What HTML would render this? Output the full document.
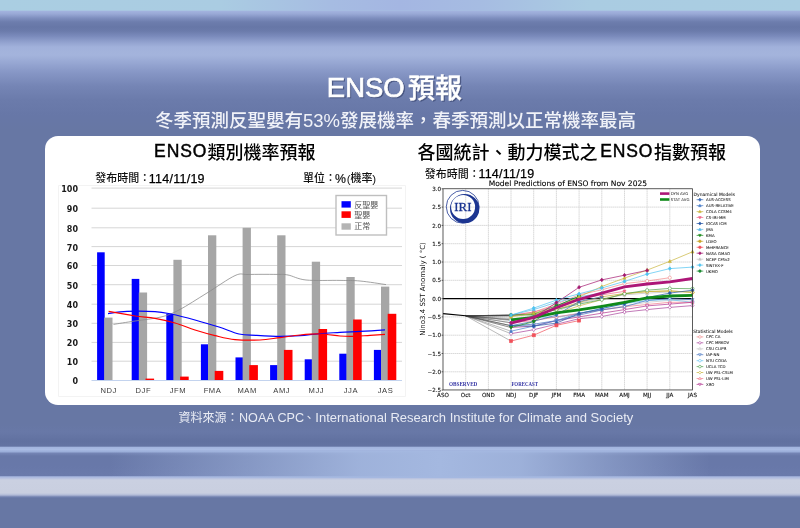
<!DOCTYPE html>
<html><head><meta charset="utf-8">
<style>
html,body{margin:0;padding:0;}
body{width:800px;height:528px;overflow:hidden;position:relative;background:
 linear-gradient(to right, rgba(164,184,224,0) 110px, rgba(164,184,224,.5) 250px, rgba(164,184,224,.9) 360px, rgba(164,184,224,1) 440px, rgba(164,184,224,.88) 520px, rgba(164,184,224,.4) 620px, rgba(164,184,224,0) 710px) 0 451px/800px 27px no-repeat,
 linear-gradient(to right, rgba(170,206,226,1) 0px, rgba(170,204,226,1) 220px, rgba(166,188,226,1) 330px, rgba(164,182,226,1) 400px, rgba(166,188,226,1) 480px, rgba(170,204,226,1) 590px, rgba(170,206,226,1) 800px) 0 0/800px 10.5px no-repeat,
 linear-gradient(to bottom,
   #a6bde0 0px, #a6bde0 10.5px, #a3b3df 11px, #98a8d5 14px, #7f8fbf 18px, #6d7dad 22px, #6777a7 27px, #6b7bab 31px, #7a8abb 36px, #91a1ce 42px, #a1b1db 47px, #a4b4dc 55px, #9aaad5 61px, #8797c6 72px, #7585b5 86px, #6b7bab 100px, #6777a7 115px, #6777a4 130px,
   #6777a4 424px, #6878a7 432px, #6171a0 441px, #6373a2 446.2px, #a2b4de 447.2px, #a9bbe3 449.5px, #9cafda 451.5px, #7383b3 453.5px, #6878a8 456px, #6878a9 466px, #6a7aab 475.5px, #a6b6df 476.8px, #b9c3e0 478.5px, #cad0e1 480px, #c9cfe0 493px, #b2bbd7 495px, #7080ae 497px, #6777a4 498.5px, #6777a4 528px)
;}
#card{position:absolute;left:45.3px;top:135.5px;width:714.7px;height:269.2px;background:#fff;border-radius:13px;}
svg{position:absolute;left:0;top:0;}
text{white-space:pre;}
.yl{font:bold 8px "DejaVu Sans",sans-serif;text-anchor:end;fill:#1a1a1a;}
.xl{font:7.6px "Liberation Sans",sans-serif;text-anchor:middle;fill:#3a3a3a;letter-spacing:0.55px;}
.lg{font:8px "Liberation Sans","Noto Sans CJK TC",sans-serif;fill:#555;}
.gr{stroke:#d6d6d6;stroke-width:0.9;stroke-dasharray:1.6 0.35;}
.rt{font:5.6px "DejaVu Sans",sans-serif;text-anchor:end;fill:#111;stroke:#111;stroke-width:0.12px;}
.rx{font:5.6px "DejaVu Sans",sans-serif;text-anchor:middle;fill:#111;stroke:#111;stroke-width:0.12px;}
.tl{font:3.9px "DejaVu Sans",sans-serif;fill:#222;}
.lh{font:4.5px "DejaVu Sans",sans-serif;fill:#222;stroke:#222;stroke-width:0.06px;}
.li{font:3.9px "DejaVu Sans",sans-serif;fill:#222;stroke:#222;stroke-width:0.06px;}
.pt{font:7.55px "DejaVu Sans",sans-serif;fill:#000;stroke:#000;stroke-width:0.1px;}
.ya{font:7px "DejaVu Sans",sans-serif;fill:#111;text-anchor:middle;}
.ob{font:bold 5.2px "Liberation Serif",serif;fill:#3535a5;}
.iri{font:12.8px "Liberation Serif",serif;fill:#1c3591;stroke:#1c3591;stroke-width:0.3px;text-anchor:middle;}
</style></head>
<body>
<div id="card"></div>
<svg width="800" height="528" viewBox="0 0 800 528">
<path d="M58.5,185.5 H405.5 V396.5 H58.5 Z" fill="none" stroke="#f3f3f3" stroke-width="1"/>
<line x1="91.5" y1="361.2" x2="402" y2="361.2" stroke="#d6d6d6" stroke-width="1"/>
<line x1="91.5" y1="342.4" x2="402" y2="342.4" stroke="#d6d6d6" stroke-width="1"/>
<line x1="91.5" y1="323.3" x2="402" y2="323.3" stroke="#d6d6d6" stroke-width="1"/>
<line x1="91.5" y1="304.2" x2="402" y2="304.2" stroke="#d6d6d6" stroke-width="1"/>
<line x1="91.5" y1="284.7" x2="402" y2="284.7" stroke="#d6d6d6" stroke-width="1"/>
<line x1="91.5" y1="265.5" x2="402" y2="265.5" stroke="#d6d6d6" stroke-width="1"/>
<line x1="91.5" y1="246.6" x2="402" y2="246.6" stroke="#d6d6d6" stroke-width="1"/>
<line x1="91.5" y1="227.8" x2="402" y2="227.8" stroke="#d6d6d6" stroke-width="1"/>
<line x1="91.5" y1="208.2" x2="402" y2="208.2" stroke="#d6d6d6" stroke-width="1"/>
<line x1="91.5" y1="188.1" x2="402" y2="188.1" stroke="#d6d6d6" stroke-width="1"/>
<text x="78" y="384.4" class="yl">0</text>
<text x="78" y="365.1" class="yl">10</text>
<text x="78" y="346.3" class="yl">20</text>
<text x="78" y="327.2" class="yl">30</text>
<text x="78" y="308.1" class="yl">40</text>
<text x="78" y="288.6" class="yl">50</text>
<text x="78" y="269.4" class="yl">60</text>
<text x="78" y="250.5" class="yl">70</text>
<text x="78" y="231.7" class="yl">80</text>
<text x="78" y="212.1" class="yl">90</text>
<text x="78" y="192" class="yl">100</text>
<rect x="97.1" y="252.3" width="7.6" height="128.2" fill="#0000ff"/>
<rect x="104.2" y="317.6" width="8.3" height="62.9" fill="#a6a6a6"/>
<text x="108.7" y="392.9" class="xl">NDJ</text>
<rect x="131.7" y="278.9" width="7.6" height="101.6" fill="#0000ff"/>
<rect x="138.8" y="292.5" width="8.3" height="88" fill="#a6a6a6"/>
<rect x="145.5" y="378.6" width="8.6" height="1.9" fill="#ff0000"/>
<text x="143.3" y="392.9" class="xl">DJF</text>
<rect x="166.3" y="313.8" width="7.6" height="66.8" fill="#0000ff"/>
<rect x="173.4" y="259.8" width="8.3" height="120.7" fill="#a6a6a6"/>
<rect x="180.1" y="376.6" width="8.6" height="3.9" fill="#ff0000"/>
<text x="177.9" y="392.9" class="xl">JFM</text>
<rect x="200.9" y="344.3" width="7.6" height="36.2" fill="#0000ff"/>
<rect x="208" y="235.3" width="8.3" height="145.2" fill="#a6a6a6"/>
<rect x="214.7" y="370.9" width="8.6" height="9.6" fill="#ff0000"/>
<text x="212.5" y="392.9" class="xl">FMA</text>
<rect x="235.5" y="357.4" width="7.6" height="23.1" fill="#0000ff"/>
<rect x="242.6" y="227.8" width="8.3" height="152.7" fill="#a6a6a6"/>
<rect x="249.3" y="365.1" width="8.6" height="15.4" fill="#ff0000"/>
<text x="247.1" y="392.9" class="xl">MAM</text>
<rect x="270.1" y="365.1" width="7.6" height="15.4" fill="#0000ff"/>
<rect x="277.2" y="235.3" width="8.3" height="145.2" fill="#a6a6a6"/>
<rect x="283.9" y="349.9" width="8.6" height="30.6" fill="#ff0000"/>
<text x="281.7" y="392.9" class="xl">AMJ</text>
<rect x="304.7" y="359.3" width="7.6" height="21.2" fill="#0000ff"/>
<rect x="311.8" y="261.7" width="8.3" height="118.8" fill="#a6a6a6"/>
<rect x="318.5" y="329" width="8.6" height="51.5" fill="#ff0000"/>
<text x="316.3" y="392.9" class="xl">MJJ</text>
<rect x="339.3" y="353.7" width="7.6" height="26.8" fill="#0000ff"/>
<rect x="346.4" y="277" width="8.3" height="103.5" fill="#a6a6a6"/>
<rect x="353.1" y="319.5" width="8.6" height="61" fill="#ff0000"/>
<text x="350.9" y="392.9" class="xl">JJA</text>
<rect x="373.9" y="349.9" width="7.6" height="30.6" fill="#0000ff"/>
<rect x="381" y="286.6" width="8.3" height="93.9" fill="#a6a6a6"/>
<rect x="387.7" y="313.8" width="8.6" height="66.8" fill="#ff0000"/>
<text x="385.5" y="392.9" class="xl">JAS</text>
<line x1="91.5" y1="380.5" x2="402" y2="380.5" stroke="#c3d3ee" stroke-width="1"/>
<path d="M113.5,324.4 C117.1,323.8 127.1,322.2 135,321 C142.9,319.8 153.7,318.8 161,317 C168.3,315.2 171.3,314 179,310 C186.7,306 197.7,298.7 207,293 C216.3,287.3 228.2,278.7 235,275.6 C241.8,272.5 241.2,274.7 248,274.5 C254.8,274.3 269.3,274.3 276,274.4 C282.7,274.5 283,274.1 288,275 C293,275.9 297.3,279.1 306,280 C314.7,280.9 331,280.2 340,280.4 C349,280.6 352.3,280.3 360,281 C367.7,281.7 381.7,284 386,284.6" fill="none" stroke="#8c8c8c" stroke-width="0.8"/>
<path d="M108,313.6 C111.2,313.2 119.2,311.7 127,311.4 C134.8,311.1 147.7,311.2 155,311.6 C162.3,312 164.3,312.6 171,314 C177.7,315.4 187,317.8 195,320 C203,322.2 211.7,324.7 219,327 C226.3,329.3 232.8,332.6 239,334 C245.2,335.4 249.2,335 256,335.4 C262.8,335.8 272.7,336.4 280,336.4 C287.3,336.4 293.3,336.1 300,335.6 C306.7,335.1 313.3,334.1 320,333.6 C326.7,333.1 333.3,332.8 340,332.4 C346.7,332 352.5,331.8 360,331.4 C367.5,331 380.8,330.1 385,329.8" fill="none" stroke="#0000ff" stroke-width="1.2"/>
<path d="M108.6,311.4 C113,312.2 127.3,314.8 135,316 C142.7,317.2 148.3,317.2 155,318.4 C161.7,319.6 168.3,321.1 175,323 C181.7,324.9 188.3,327.9 195,330 C201.7,332.1 208.3,334 215,335.6 C221.7,337.2 227.5,338.9 235,339.6 C242.5,340.3 252.5,340.3 260,340 C267.5,339.7 273.3,338.4 280,337.6 C286.7,336.8 293.3,335.6 300,335 C306.7,334.4 313.3,333.8 320,334 C326.7,334.2 334.7,335.6 340,336 C345.3,336.4 347,336.5 352,336.4 C357,336.3 364.5,335.7 370,335.4 C375.5,335.1 382.5,334.6 385,334.4" fill="none" stroke="#ff0000" stroke-width="1.2"/>
<rect x="336" y="195.5" width="50.5" height="39.5" fill="#fff" stroke="#bfbfbf" stroke-width="1.4"/>
<rect x="341.5" y="201.2" width="9.3" height="6.4" fill="#0000ff"/>
<rect x="341.5" y="211.3" width="9.3" height="6.6" fill="#ff0000"/>
<rect x="341.5" y="223.3" width="9.3" height="6.4" fill="#b4b4b4"/>
<text x="354.2" y="207.5" class="lg">反聖嬰</text>
<text x="354.2" y="217.8" class="lg">聖嬰</text>
<text x="354.2" y="229.1" class="lg">正常</text>
<line x1="465.7" y1="188.75" x2="465.7" y2="390.0" class="gr"/>
<line x1="488.4" y1="188.75" x2="488.4" y2="390.0" class="gr"/>
<line x1="511" y1="188.75" x2="511" y2="390.0" class="gr"/>
<line x1="533.7" y1="188.75" x2="533.7" y2="390.0" class="gr"/>
<line x1="556.4" y1="188.75" x2="556.4" y2="390.0" class="gr"/>
<line x1="579.1" y1="188.75" x2="579.1" y2="390.0" class="gr"/>
<line x1="601.8" y1="188.75" x2="601.8" y2="390.0" class="gr"/>
<line x1="624.5" y1="188.75" x2="624.5" y2="390.0" class="gr"/>
<line x1="647.1" y1="188.75" x2="647.1" y2="390.0" class="gr"/>
<line x1="669.8" y1="188.75" x2="669.8" y2="390.0" class="gr"/>
<line x1="443.0" y1="371.8" x2="692.5" y2="371.8" class="gr"/>
<line x1="443.0" y1="353.5" x2="692.5" y2="353.5" class="gr"/>
<line x1="443.0" y1="335.2" x2="692.5" y2="335.2" class="gr"/>
<line x1="443.0" y1="316.9" x2="692.5" y2="316.9" class="gr"/>
<line x1="443.0" y1="280.3" x2="692.5" y2="280.3" class="gr"/>
<line x1="443.0" y1="262" x2="692.5" y2="262" class="gr"/>
<line x1="443.0" y1="243.7" x2="692.5" y2="243.7" class="gr"/>
<line x1="443.0" y1="225.4" x2="692.5" y2="225.4" class="gr"/>
<line x1="443.0" y1="207.1" x2="692.5" y2="207.1" class="gr"/>
<text x="441.2" y="392.2" class="rt">−2.5</text>
<line x1="441.6" y1="390.1" x2="443" y2="390.1" stroke="#000" stroke-width="0.6"/>
<text x="441.2" y="373.9" class="rt">−2.0</text>
<line x1="441.6" y1="371.8" x2="443" y2="371.8" stroke="#000" stroke-width="0.6"/>
<text x="441.2" y="355.6" class="rt">−1.5</text>
<line x1="441.6" y1="353.5" x2="443" y2="353.5" stroke="#000" stroke-width="0.6"/>
<text x="441.2" y="337.3" class="rt">−1.0</text>
<line x1="441.6" y1="335.2" x2="443" y2="335.2" stroke="#000" stroke-width="0.6"/>
<text x="441.2" y="319" class="rt">−0.5</text>
<line x1="441.6" y1="316.9" x2="443" y2="316.9" stroke="#000" stroke-width="0.6"/>
<text x="441.2" y="300.7" class="rt">0.0</text>
<line x1="441.6" y1="298.6" x2="443" y2="298.6" stroke="#000" stroke-width="0.6"/>
<text x="441.2" y="282.4" class="rt">0.5</text>
<line x1="441.6" y1="280.3" x2="443" y2="280.3" stroke="#000" stroke-width="0.6"/>
<text x="441.2" y="264.1" class="rt">1.0</text>
<line x1="441.6" y1="262" x2="443" y2="262" stroke="#000" stroke-width="0.6"/>
<text x="441.2" y="245.8" class="rt">1.5</text>
<line x1="441.6" y1="243.7" x2="443" y2="243.7" stroke="#000" stroke-width="0.6"/>
<text x="441.2" y="227.5" class="rt">2.0</text>
<line x1="441.6" y1="225.4" x2="443" y2="225.4" stroke="#000" stroke-width="0.6"/>
<text x="441.2" y="209.2" class="rt">2.5</text>
<line x1="441.6" y1="207.1" x2="443" y2="207.1" stroke="#000" stroke-width="0.6"/>
<text x="441.2" y="190.9" class="rt">3.0</text>
<line x1="441.6" y1="188.8" x2="443" y2="188.8" stroke="#000" stroke-width="0.6"/>
<text x="443" y="397" class="rx">ASO</text>
<text x="465.7" y="397" class="rx">Oct</text>
<text x="488.4" y="397" class="rx">OND</text>
<text x="511" y="397" class="rx">NDJ</text>
<text x="533.7" y="397" class="rx">DJF</text>
<text x="556.4" y="397" class="rx">JFM</text>
<text x="579.1" y="397" class="rx">FMA</text>
<text x="601.8" y="397" class="rx">MAM</text>
<text x="624.5" y="397" class="rx">AMJ</text>
<text x="647.1" y="397" class="rx">MJJ</text>
<text x="669.8" y="397" class="rx">JJA</text>
<text x="692.5" y="397" class="rx">JAS</text>
<line x1="443.0" y1="298.6" x2="692.5" y2="298.6" stroke="#000" stroke-width="1.3"/>
<line x1="465.7" y1="315.8" x2="511" y2="319.8" stroke="#3a3a3a" stroke-width="0.35"/>
<line x1="465.7" y1="315.8" x2="511" y2="318.7" stroke="#3a3a3a" stroke-width="0.35"/>
<line x1="465.7" y1="315.8" x2="511" y2="315.4" stroke="#3a3a3a" stroke-width="0.35"/>
<line x1="465.7" y1="315.8" x2="511" y2="319.8" stroke="#3a3a3a" stroke-width="0.35"/>
<line x1="465.7" y1="315.8" x2="511" y2="315.1" stroke="#3a3a3a" stroke-width="0.35"/>
<line x1="465.7" y1="315.8" x2="511" y2="320.6" stroke="#3a3a3a" stroke-width="0.35"/>
<line x1="465.7" y1="315.8" x2="511" y2="322.8" stroke="#3a3a3a" stroke-width="0.35"/>
<line x1="465.7" y1="315.8" x2="511" y2="327.5" stroke="#3a3a3a" stroke-width="0.35"/>
<line x1="465.7" y1="315.8" x2="511" y2="325.7" stroke="#3a3a3a" stroke-width="0.35"/>
<line x1="465.7" y1="315.8" x2="511" y2="333.7" stroke="#3a3a3a" stroke-width="0.35"/>
<line x1="465.7" y1="315.8" x2="511" y2="315.4" stroke="#3a3a3a" stroke-width="0.35"/>
<line x1="465.7" y1="315.8" x2="511" y2="331.2" stroke="#3a3a3a" stroke-width="0.35"/>
<line x1="465.7" y1="315.8" x2="511" y2="325.7" stroke="#3a3a3a" stroke-width="0.35"/>
<line x1="465.7" y1="315.8" x2="511" y2="325.7" stroke="#3a3a3a" stroke-width="0.35"/>
<line x1="465.7" y1="315.8" x2="511" y2="315.4" stroke="#3a3a3a" stroke-width="0.35"/>
<line x1="465.7" y1="315.8" x2="511" y2="315.1" stroke="#3a3a3a" stroke-width="0.35"/>
<line x1="465.7" y1="315.8" x2="511" y2="327.5" stroke="#3a3a3a" stroke-width="0.35"/>
<line x1="465.7" y1="315.8" x2="511" y2="315.1" stroke="#3a3a3a" stroke-width="0.35"/>
<line x1="465.7" y1="315.8" x2="511" y2="341.1" stroke="#3a3a3a" stroke-width="0.35"/>
<line x1="465.7" y1="315.8" x2="511" y2="316.9" stroke="#3a3a3a" stroke-width="0.35"/>
<line x1="465.7" y1="315.8" x2="511" y2="315.1" stroke="#3a3a3a" stroke-width="0.35"/>
<line x1="465.7" y1="315.8" x2="511" y2="322.8" stroke="#3a3a3a" stroke-width="0.35"/>
<polyline points="443,313.6 465.7,315.8" fill="none" stroke="#000" stroke-width="1.1"/>
<polyline points="511,319.8 533.7,318.7 556.4,316.9 579.1,313.2 601.8,309.6 624.5,305.9 647.1,302.3 669.8,300.4 692.5,299.7" fill="none" stroke="#c4c4c4" stroke-width="0.7"/>
<path d="M511,318.1L512.6,321.1L509.5,321.1Z" fill="#fff" stroke="#c4c4c4" stroke-width="0.6"/>
<path d="M533.7,317L535.3,320L532.2,320Z" fill="#fff" stroke="#c4c4c4" stroke-width="0.6"/>
<path d="M556.4,315.2L558,318.1L554.9,318.1Z" fill="#fff" stroke="#c4c4c4" stroke-width="0.6"/>
<path d="M579.1,311.5L580.6,314.5L577.5,314.5Z" fill="#fff" stroke="#c4c4c4" stroke-width="0.6"/>
<path d="M601.8,307.9L603.3,310.8L600.2,310.8Z" fill="#fff" stroke="#c4c4c4" stroke-width="0.6"/>
<path d="M624.5,304.2L626,307.2L622.9,307.2Z" fill="#fff" stroke="#c4c4c4" stroke-width="0.6"/>
<path d="M647.1,300.6L648.7,303.5L645.6,303.5Z" fill="#fff" stroke="#c4c4c4" stroke-width="0.6"/>
<path d="M669.8,298.7L671.4,301.7L668.3,301.7Z" fill="#fff" stroke="#c4c4c4" stroke-width="0.6"/>
<path d="M692.5,298L694,300.9L691,300.9Z" fill="#fff" stroke="#c4c4c4" stroke-width="0.6"/>
<polyline points="511,318.7 533.7,317.6 556.4,311.4 579.1,303 601.8,298.6 624.5,294.9 647.1,293.1 669.8,292 692.5,291.3" fill="none" stroke="#bdbdbd" stroke-width="0.7"/>
<path d="M511,317L512.6,320L509.5,320Z" fill="#bdbdbd" stroke="#bdbdbd" stroke-width="0.6"/>
<path d="M533.7,315.9L535.3,318.9L532.2,318.9Z" fill="#bdbdbd" stroke="#bdbdbd" stroke-width="0.6"/>
<path d="M556.4,309.7L558,312.7L554.9,312.7Z" fill="#bdbdbd" stroke="#bdbdbd" stroke-width="0.6"/>
<path d="M579.1,301.3L580.6,304.2L577.5,304.2Z" fill="#bdbdbd" stroke="#bdbdbd" stroke-width="0.6"/>
<path d="M601.8,296.9L603.3,299.8L600.2,299.8Z" fill="#bdbdbd" stroke="#bdbdbd" stroke-width="0.6"/>
<path d="M624.5,293.2L626,296.2L622.9,296.2Z" fill="#bdbdbd" stroke="#bdbdbd" stroke-width="0.6"/>
<path d="M647.1,291.4L648.7,294.4L645.6,294.4Z" fill="#bdbdbd" stroke="#bdbdbd" stroke-width="0.6"/>
<path d="M669.8,290.3L671.4,293.3L668.3,293.3Z" fill="#bdbdbd" stroke="#bdbdbd" stroke-width="0.6"/>
<path d="M692.5,289.6L694,292.5L691,292.5Z" fill="#bdbdbd" stroke="#bdbdbd" stroke-width="0.6"/>
<polyline points="511,315.4 533.7,314 556.4,309.6 579.1,302.3 601.8,296.8 624.5,293.5 647.1,291.6 669.8,290.9 692.5,292.4" fill="none" stroke="#c9a62a" stroke-width="0.7"/>
<circle cx="511" cy="315.4" r="1.6" fill="#c9a62a" stroke="#c9a62a" stroke-width="0.6"/>
<circle cx="533.7" cy="314" r="1.6" fill="#c9a62a" stroke="#c9a62a" stroke-width="0.6"/>
<circle cx="556.4" cy="309.6" r="1.6" fill="#c9a62a" stroke="#c9a62a" stroke-width="0.6"/>
<circle cx="579.1" cy="302.3" r="1.6" fill="#c9a62a" stroke="#c9a62a" stroke-width="0.6"/>
<circle cx="601.8" cy="296.8" r="1.6" fill="#c9a62a" stroke="#c9a62a" stroke-width="0.6"/>
<circle cx="624.5" cy="293.5" r="1.6" fill="#c9a62a" stroke="#c9a62a" stroke-width="0.6"/>
<circle cx="647.1" cy="291.6" r="1.6" fill="#c9a62a" stroke="#c9a62a" stroke-width="0.6"/>
<circle cx="669.8" cy="290.9" r="1.6" fill="#c9a62a" stroke="#c9a62a" stroke-width="0.6"/>
<circle cx="692.5" cy="292.4" r="1.6" fill="#c9a62a" stroke="#c9a62a" stroke-width="0.6"/>
<polyline points="511,319.8 533.7,316.9 556.4,313.2 579.1,305.9 601.8,299.7 624.5,293.8 647.1,291.6 669.8,290.9 692.5,292.4" fill="none" stroke="#c8b43a" stroke-width="0.7"/>
<path d="M511,318L512.6,319.8L511,321.7L509.5,319.8Z" fill="#fff" stroke="#c8b43a" stroke-width="0.6"/>
<path d="M533.7,315L535.3,316.9L533.7,318.8L532.2,316.9Z" fill="#fff" stroke="#c8b43a" stroke-width="0.6"/>
<path d="M556.4,311.4L558,313.2L556.4,315.1L554.9,313.2Z" fill="#fff" stroke="#c8b43a" stroke-width="0.6"/>
<path d="M579.1,304.1L580.6,305.9L579.1,307.8L577.5,305.9Z" fill="#fff" stroke="#c8b43a" stroke-width="0.6"/>
<path d="M601.8,297.8L603.3,299.7L601.8,301.6L600.2,299.7Z" fill="#fff" stroke="#c8b43a" stroke-width="0.6"/>
<path d="M624.5,292L626,293.8L624.5,295.7L622.9,293.8Z" fill="#fff" stroke="#c8b43a" stroke-width="0.6"/>
<path d="M647.1,289.8L648.7,291.6L647.1,293.5L645.6,291.6Z" fill="#fff" stroke="#c8b43a" stroke-width="0.6"/>
<path d="M669.8,289.1L671.4,290.9L669.8,292.8L668.3,290.9Z" fill="#fff" stroke="#c8b43a" stroke-width="0.6"/>
<path d="M692.5,290.5L694,292.4L692.5,294.2L691,292.4Z" fill="#fff" stroke="#c8b43a" stroke-width="0.6"/>
<polyline points="511,315.1 533.7,315.1 556.4,309.6 579.1,304.1 601.8,299.7 624.5,293.8 647.1,290.2 669.8,288.4 692.5,288.7" fill="none" stroke="#4aa04a" stroke-width="0.7"/>
<circle cx="511" cy="315.1" r="1.6" fill="#fff" stroke="#4aa04a" stroke-width="0.6"/>
<circle cx="533.7" cy="315.1" r="1.6" fill="#fff" stroke="#4aa04a" stroke-width="0.6"/>
<circle cx="556.4" cy="309.6" r="1.6" fill="#fff" stroke="#4aa04a" stroke-width="0.6"/>
<circle cx="579.1" cy="304.1" r="1.6" fill="#fff" stroke="#4aa04a" stroke-width="0.6"/>
<circle cx="601.8" cy="299.7" r="1.6" fill="#fff" stroke="#4aa04a" stroke-width="0.6"/>
<circle cx="624.5" cy="293.8" r="1.6" fill="#fff" stroke="#4aa04a" stroke-width="0.6"/>
<circle cx="647.1" cy="290.2" r="1.6" fill="#fff" stroke="#4aa04a" stroke-width="0.6"/>
<circle cx="669.8" cy="288.4" r="1.6" fill="#fff" stroke="#4aa04a" stroke-width="0.6"/>
<circle cx="692.5" cy="288.7" r="1.6" fill="#fff" stroke="#4aa04a" stroke-width="0.6"/>
<polyline points="511,320.6 533.7,316.9 556.4,317.3 579.1,313.6 601.8,308.5 624.5,303.7 647.1,300.4 669.8,299.7 692.5,302.3" fill="none" stroke="#63c3f2" stroke-width="0.7"/>
<circle cx="511" cy="320.6" r="1.6" fill="#fff" stroke="#63c3f2" stroke-width="0.6"/>
<circle cx="533.7" cy="316.9" r="1.6" fill="#fff" stroke="#63c3f2" stroke-width="0.6"/>
<circle cx="556.4" cy="317.3" r="1.6" fill="#fff" stroke="#63c3f2" stroke-width="0.6"/>
<circle cx="579.1" cy="313.6" r="1.6" fill="#fff" stroke="#63c3f2" stroke-width="0.6"/>
<circle cx="601.8" cy="308.5" r="1.6" fill="#fff" stroke="#63c3f2" stroke-width="0.6"/>
<circle cx="624.5" cy="303.7" r="1.6" fill="#fff" stroke="#63c3f2" stroke-width="0.6"/>
<circle cx="647.1" cy="300.4" r="1.6" fill="#fff" stroke="#63c3f2" stroke-width="0.6"/>
<circle cx="669.8" cy="299.7" r="1.6" fill="#fff" stroke="#63c3f2" stroke-width="0.6"/>
<circle cx="692.5" cy="302.3" r="1.6" fill="#fff" stroke="#63c3f2" stroke-width="0.6"/>
<polyline points="511,322.8 533.7,320.6 556.4,316.9 579.1,313.6 601.8,309.9 624.5,306.7 647.1,304.5 669.8,302.3 692.5,302.3" fill="none" stroke="#f27a8a" stroke-width="0.7"/>
<path d="M511,321.1L512.6,324L509.5,324Z" fill="#fff" stroke="#f27a8a" stroke-width="0.6"/>
<path d="M533.7,318.9L535.3,321.8L532.2,321.8Z" fill="#fff" stroke="#f27a8a" stroke-width="0.6"/>
<path d="M556.4,315.2L558,318.1L554.9,318.1Z" fill="#fff" stroke="#f27a8a" stroke-width="0.6"/>
<path d="M579.1,311.9L580.6,314.8L577.5,314.8Z" fill="#fff" stroke="#f27a8a" stroke-width="0.6"/>
<path d="M601.8,308.2L603.3,311.2L600.2,311.2Z" fill="#fff" stroke="#f27a8a" stroke-width="0.6"/>
<path d="M624.5,304.9L626,307.9L622.9,307.9Z" fill="#fff" stroke="#f27a8a" stroke-width="0.6"/>
<path d="M647.1,302.8L648.7,305.7L645.6,305.7Z" fill="#fff" stroke="#f27a8a" stroke-width="0.6"/>
<path d="M669.8,300.6L671.4,303.5L668.3,303.5Z" fill="#fff" stroke="#f27a8a" stroke-width="0.6"/>
<path d="M692.5,300.6L694,303.5L691,303.5Z" fill="#fff" stroke="#f27a8a" stroke-width="0.6"/>
<polyline points="511,327.5 533.7,326.1 556.4,320.6 579.1,316.9 601.8,313.2 624.5,309.6 647.1,305.9 669.8,304.1 692.5,302.3" fill="none" stroke="#b0308e" stroke-width="0.7"/>
<path d="M511,329.2L512.6,326.3L509.5,326.3Z" fill="#fff" stroke="#b0308e" stroke-width="0.6"/>
<path d="M533.7,327.8L535.3,324.8L532.2,324.8Z" fill="#fff" stroke="#b0308e" stroke-width="0.6"/>
<path d="M556.4,322.3L558,319.3L554.9,319.3Z" fill="#fff" stroke="#b0308e" stroke-width="0.6"/>
<path d="M579.1,318.6L580.6,315.7L577.5,315.7Z" fill="#fff" stroke="#b0308e" stroke-width="0.6"/>
<path d="M601.8,314.9L603.3,312L600.2,312Z" fill="#fff" stroke="#b0308e" stroke-width="0.6"/>
<path d="M624.5,311.3L626,308.3L622.9,308.3Z" fill="#fff" stroke="#b0308e" stroke-width="0.6"/>
<path d="M647.1,307.6L648.7,304.7L645.6,304.7Z" fill="#fff" stroke="#b0308e" stroke-width="0.6"/>
<path d="M669.8,305.8L671.4,302.9L668.3,302.9Z" fill="#fff" stroke="#b0308e" stroke-width="0.6"/>
<path d="M692.5,304L694,301L691,301Z" fill="#fff" stroke="#b0308e" stroke-width="0.6"/>
<polyline points="511,325.7 533.7,324.2 556.4,320.6 579.1,315.1 601.8,309.9 624.5,306.7 647.1,300.4 669.8,298.6 692.5,299.7" fill="none" stroke="#4070c0" stroke-width="0.7"/>
<path d="M511,327.4L512.6,324.4L509.5,324.4Z" fill="#fff" stroke="#4070c0" stroke-width="0.6"/>
<path d="M533.7,325.9L535.3,323L532.2,323Z" fill="#fff" stroke="#4070c0" stroke-width="0.6"/>
<path d="M556.4,322.3L558,319.3L554.9,319.3Z" fill="#fff" stroke="#4070c0" stroke-width="0.6"/>
<path d="M579.1,316.8L580.6,313.8L577.5,313.8Z" fill="#fff" stroke="#4070c0" stroke-width="0.6"/>
<path d="M601.8,311.7L603.3,308.7L600.2,308.7Z" fill="#fff" stroke="#4070c0" stroke-width="0.6"/>
<path d="M624.5,308.4L626,305.4L622.9,305.4Z" fill="#fff" stroke="#4070c0" stroke-width="0.6"/>
<path d="M647.1,302.1L648.7,299.2L645.6,299.2Z" fill="#fff" stroke="#4070c0" stroke-width="0.6"/>
<path d="M669.8,300.3L671.4,297.4L668.3,297.4Z" fill="#fff" stroke="#4070c0" stroke-width="0.6"/>
<path d="M692.5,301.4L694,298.5L691,298.5Z" fill="#fff" stroke="#4070c0" stroke-width="0.6"/>
<polyline points="511,333.7 533.7,329.7 556.4,324.2 579.1,318.7 601.8,316.5 624.5,312.1 647.1,309.6 669.8,307.4 692.5,305.6" fill="none" stroke="#a8409a" stroke-width="0.7"/>
<path d="M511,331.9L512.6,333.7L511,335.6L509.5,333.7Z" fill="#fff" stroke="#a8409a" stroke-width="0.6"/>
<path d="M533.7,327.9L535.3,329.7L533.7,331.6L532.2,329.7Z" fill="#fff" stroke="#a8409a" stroke-width="0.6"/>
<path d="M556.4,322.4L558,324.2L556.4,326.1L554.9,324.2Z" fill="#fff" stroke="#a8409a" stroke-width="0.6"/>
<path d="M579.1,316.9L580.6,318.7L579.1,320.6L577.5,318.7Z" fill="#fff" stroke="#a8409a" stroke-width="0.6"/>
<path d="M601.8,314.7L603.3,316.5L601.8,318.4L600.2,316.5Z" fill="#fff" stroke="#a8409a" stroke-width="0.6"/>
<path d="M624.5,310.3L626,312.1L624.5,314L622.9,312.1Z" fill="#fff" stroke="#a8409a" stroke-width="0.6"/>
<path d="M647.1,307.7L648.7,309.6L647.1,311.4L645.6,309.6Z" fill="#fff" stroke="#a8409a" stroke-width="0.6"/>
<path d="M669.8,305.5L671.4,307.4L669.8,309.2L668.3,307.4Z" fill="#fff" stroke="#a8409a" stroke-width="0.6"/>
<path d="M692.5,303.7L694,305.6L692.5,307.4L691,305.6Z" fill="#fff" stroke="#a8409a" stroke-width="0.6"/>
<polyline points="511,315.4 533.7,312.1 556.4,304.1 579.1,294.9 601.8,289.8 624.5,283.6 647.1,281 669.8,277.7" fill="none" stroke="#f28a8a" stroke-width="0.7"/>
<circle cx="511" cy="315.4" r="1.6" fill="#fff" stroke="#f28a8a" stroke-width="0.6"/>
<circle cx="533.7" cy="312.1" r="1.6" fill="#fff" stroke="#f28a8a" stroke-width="0.6"/>
<circle cx="556.4" cy="304.1" r="1.6" fill="#fff" stroke="#f28a8a" stroke-width="0.6"/>
<circle cx="579.1" cy="294.9" r="1.6" fill="#fff" stroke="#f28a8a" stroke-width="0.6"/>
<circle cx="601.8" cy="289.8" r="1.6" fill="#fff" stroke="#f28a8a" stroke-width="0.6"/>
<circle cx="624.5" cy="283.6" r="1.6" fill="#fff" stroke="#f28a8a" stroke-width="0.6"/>
<circle cx="647.1" cy="281" r="1.6" fill="#fff" stroke="#f28a8a" stroke-width="0.6"/>
<circle cx="669.8" cy="277.7" r="1.6" fill="#fff" stroke="#f28a8a" stroke-width="0.6"/>
<polyline points="511,331.2 533.7,326.1 556.4,320.6 579.1,313.2 601.8,309.6" fill="none" stroke="#4a7ec8" stroke-width="0.7"/>
<path d="M511,329.5L512.6,332.4L509.5,332.4Z" fill="#4a7ec8" stroke="#4a7ec8" stroke-width="0.6"/>
<path d="M533.7,324.3L535.3,327.3L532.2,327.3Z" fill="#4a7ec8" stroke="#4a7ec8" stroke-width="0.6"/>
<path d="M556.4,318.9L558,321.8L554.9,321.8Z" fill="#4a7ec8" stroke="#4a7ec8" stroke-width="0.6"/>
<path d="M579.1,311.5L580.6,314.5L577.5,314.5Z" fill="#4a7ec8" stroke="#4a7ec8" stroke-width="0.6"/>
<path d="M601.8,307.9L603.3,310.8L600.2,310.8Z" fill="#4a7ec8" stroke="#4a7ec8" stroke-width="0.6"/>
<polyline points="511,325.7 533.7,321.3 556.4,315.1 579.1,301.5 601.8,296.8" fill="none" stroke="#3b6cb5" stroke-width="0.7"/>
<path d="M511,323.8L512.6,325.7L511,327.5L509.5,325.7Z" fill="#3b6cb5" stroke="#3b6cb5" stroke-width="0.6"/>
<path d="M533.7,319.4L535.3,321.3L533.7,323.2L532.2,321.3Z" fill="#3b6cb5" stroke="#3b6cb5" stroke-width="0.6"/>
<path d="M556.4,313.2L558,315.1L556.4,316.9L554.9,315.1Z" fill="#3b6cb5" stroke="#3b6cb5" stroke-width="0.6"/>
<path d="M579.1,299.7L580.6,301.5L579.1,303.4L577.5,301.5Z" fill="#3b6cb5" stroke="#3b6cb5" stroke-width="0.6"/>
<path d="M601.8,294.9L603.3,296.8L601.8,298.6L600.2,296.8Z" fill="#3b6cb5" stroke="#3b6cb5" stroke-width="0.6"/>
<polyline points="511,325.7 533.7,326.1 556.4,323.1 579.1,313.6 601.8,308.5 624.5,303.7 647.1,297.5 669.8,293.1 692.5,290.2" fill="none" stroke="#2a5aa8" stroke-width="0.7"/>
<path d="M511,323.8L512.6,325.7L511,327.5L509.5,325.7Z" fill="#2a5aa8" stroke="#2a5aa8" stroke-width="0.6"/>
<path d="M533.7,324.2L535.3,326.1L533.7,327.9L532.2,326.1Z" fill="#2a5aa8" stroke="#2a5aa8" stroke-width="0.6"/>
<path d="M556.4,321.3L558,323.1L556.4,325L554.9,323.1Z" fill="#2a5aa8" stroke="#2a5aa8" stroke-width="0.6"/>
<path d="M579.1,311.7L580.6,313.6L579.1,315.5L577.5,313.6Z" fill="#2a5aa8" stroke="#2a5aa8" stroke-width="0.6"/>
<path d="M601.8,306.6L603.3,308.5L601.8,310.3L600.2,308.5Z" fill="#2a5aa8" stroke="#2a5aa8" stroke-width="0.6"/>
<path d="M624.5,301.9L626,303.7L624.5,305.6L622.9,303.7Z" fill="#2a5aa8" stroke="#2a5aa8" stroke-width="0.6"/>
<path d="M647.1,295.6L648.7,297.5L647.1,299.4L645.6,297.5Z" fill="#2a5aa8" stroke="#2a5aa8" stroke-width="0.6"/>
<path d="M669.8,291.2L671.4,293.1L669.8,295L668.3,293.1Z" fill="#2a5aa8" stroke="#2a5aa8" stroke-width="0.6"/>
<path d="M692.5,288.3L694,290.2L692.5,292L691,290.2Z" fill="#2a5aa8" stroke="#2a5aa8" stroke-width="0.6"/>
<polyline points="511,315.4 533.7,312.1 556.4,305.9 579.1,298.6 601.8,294.9 624.5,291.3" fill="none" stroke="#f06888" stroke-width="0.7"/>
<path d="M511,317.1L512.6,314.2L509.5,314.2Z" fill="#f06888" stroke="#f06888" stroke-width="0.6"/>
<path d="M533.7,313.8L535.3,310.9L532.2,310.9Z" fill="#f06888" stroke="#f06888" stroke-width="0.6"/>
<path d="M556.4,307.6L558,304.7L554.9,304.7Z" fill="#f06888" stroke="#f06888" stroke-width="0.6"/>
<path d="M579.1,300.3L580.6,297.4L577.5,297.4Z" fill="#f06888" stroke="#f06888" stroke-width="0.6"/>
<path d="M601.8,296.6L603.3,293.7L600.2,293.7Z" fill="#f06888" stroke="#f06888" stroke-width="0.6"/>
<path d="M624.5,293L626,290L622.9,290Z" fill="#f06888" stroke="#f06888" stroke-width="0.6"/>
<polyline points="511,315.1 533.7,309.6 556.4,302.3 579.1,296.8 601.8,293.1" fill="none" stroke="#58b8e8" stroke-width="0.7"/>
<path d="M511,313.4L512.6,316.3L509.5,316.3Z" fill="#58b8e8" stroke="#58b8e8" stroke-width="0.6"/>
<path d="M533.7,307.9L535.3,310.8L532.2,310.8Z" fill="#58b8e8" stroke="#58b8e8" stroke-width="0.6"/>
<path d="M556.4,300.6L558,303.5L554.9,303.5Z" fill="#58b8e8" stroke="#58b8e8" stroke-width="0.6"/>
<path d="M579.1,295.1L580.6,298L577.5,298Z" fill="#58b8e8" stroke="#58b8e8" stroke-width="0.6"/>
<path d="M601.8,291.4L603.3,294.4L600.2,294.4Z" fill="#58b8e8" stroke="#58b8e8" stroke-width="0.6"/>
<polyline points="511,327.5 533.7,321.7 556.4,305.9 579.1,296.4" fill="none" stroke="#188a18" stroke-width="0.7"/>
<path d="M511,329.2L512.6,326.3L509.5,326.3Z" fill="#188a18" stroke="#188a18" stroke-width="0.6"/>
<path d="M533.7,323.4L535.3,320.4L532.2,320.4Z" fill="#188a18" stroke="#188a18" stroke-width="0.6"/>
<path d="M556.4,307.6L558,304.7L554.9,304.7Z" fill="#188a18" stroke="#188a18" stroke-width="0.6"/>
<path d="M579.1,298.1L580.6,295.2L577.5,295.2Z" fill="#188a18" stroke="#188a18" stroke-width="0.6"/>
<polyline points="511,315.1 533.7,314 556.4,305.9 579.1,296.4" fill="none" stroke="#1a8a30" stroke-width="0.7"/>
<circle cx="511" cy="315.1" r="1.6" fill="#1a8a30" stroke="#1a8a30" stroke-width="0.6"/>
<circle cx="533.7" cy="314" r="1.6" fill="#1a8a30" stroke="#1a8a30" stroke-width="0.6"/>
<circle cx="556.4" cy="305.9" r="1.6" fill="#1a8a30" stroke="#1a8a30" stroke-width="0.6"/>
<circle cx="579.1" cy="296.4" r="1.6" fill="#1a8a30" stroke="#1a8a30" stroke-width="0.6"/>
<polyline points="511,341.1 533.7,335.2 556.4,325.3 579.1,320.6" fill="none" stroke="#f0505a" stroke-width="0.7"/>
<rect x="509.5" y="339.5" width="3.1" height="3.1" fill="#f0505a" stroke="#f0505a" stroke-width="0.6"/>
<rect x="532.2" y="333.7" width="3.1" height="3.1" fill="#f0505a" stroke="#f0505a" stroke-width="0.6"/>
<rect x="554.9" y="323.8" width="3.1" height="3.1" fill="#f0505a" stroke="#f0505a" stroke-width="0.6"/>
<rect x="577.5" y="319" width="3.1" height="3.1" fill="#f0505a" stroke="#f0505a" stroke-width="0.6"/>
<polyline points="511,316.9 533.7,313.2 556.4,307.8 579.1,296.8 601.8,286.5 624.5,278.1 647.1,270.1 669.8,261.3 692.5,251.8" fill="none" stroke="#c9b53d" stroke-width="0.7"/>
<path d="M511,315.2L512.6,318.1L509.5,318.1Z" fill="#c9b53d" stroke="#c9b53d" stroke-width="0.6"/>
<path d="M533.7,311.5L535.3,314.5L532.2,314.5Z" fill="#c9b53d" stroke="#c9b53d" stroke-width="0.6"/>
<path d="M556.4,306L558,309L554.9,309Z" fill="#c9b53d" stroke="#c9b53d" stroke-width="0.6"/>
<path d="M579.1,295.1L580.6,298L577.5,298Z" fill="#c9b53d" stroke="#c9b53d" stroke-width="0.6"/>
<path d="M601.8,284.8L603.3,287.8L600.2,287.8Z" fill="#c9b53d" stroke="#c9b53d" stroke-width="0.6"/>
<path d="M624.5,276.4L626,279.3L622.9,279.3Z" fill="#c9b53d" stroke="#c9b53d" stroke-width="0.6"/>
<path d="M647.1,268.3L648.7,271.3L645.6,271.3Z" fill="#c9b53d" stroke="#c9b53d" stroke-width="0.6"/>
<path d="M669.8,259.6L671.4,262.5L668.3,262.5Z" fill="#c9b53d" stroke="#c9b53d" stroke-width="0.6"/>
<path d="M692.5,250L694,253L691,253Z" fill="#c9b53d" stroke="#c9b53d" stroke-width="0.6"/>
<polyline points="511,315.1 533.7,308.1 556.4,300.1 579.1,293.8 601.8,288 624.5,281.4 647.1,274.1 669.8,268.6 692.5,267.1" fill="none" stroke="#4dc3f0" stroke-width="0.7"/>
<path d="M511,313.2L512.6,315.1L511,316.9L509.5,315.1Z" fill="#4dc3f0" stroke="#4dc3f0" stroke-width="0.6"/>
<path d="M533.7,306.3L535.3,308.1L533.7,310L532.2,308.1Z" fill="#4dc3f0" stroke="#4dc3f0" stroke-width="0.6"/>
<path d="M556.4,298.2L558,300.1L556.4,301.9L554.9,300.1Z" fill="#4dc3f0" stroke="#4dc3f0" stroke-width="0.6"/>
<path d="M579.1,292L580.6,293.8L579.1,295.7L577.5,293.8Z" fill="#4dc3f0" stroke="#4dc3f0" stroke-width="0.6"/>
<path d="M601.8,286.1L603.3,288L601.8,289.8L600.2,288Z" fill="#4dc3f0" stroke="#4dc3f0" stroke-width="0.6"/>
<path d="M624.5,279.5L626,281.4L624.5,283.3L622.9,281.4Z" fill="#4dc3f0" stroke="#4dc3f0" stroke-width="0.6"/>
<path d="M647.1,272.2L648.7,274.1L647.1,275.9L645.6,274.1Z" fill="#4dc3f0" stroke="#4dc3f0" stroke-width="0.6"/>
<path d="M669.8,266.7L671.4,268.6L669.8,270.4L668.3,268.6Z" fill="#4dc3f0" stroke="#4dc3f0" stroke-width="0.6"/>
<path d="M692.5,265.3L694,267.1L692.5,269L691,267.1Z" fill="#4dc3f0" stroke="#4dc3f0" stroke-width="0.6"/>
<polyline points="511,322.8 533.7,317.6 556.4,302.6 579.1,287.3 601.8,279.9 624.5,275.2 647.1,270.4" fill="none" stroke="#a3176f" stroke-width="0.7"/>
<path d="M511,320.9L512.6,322.8L511,324.6L509.5,322.8Z" fill="#a3176f" stroke="#a3176f" stroke-width="0.6"/>
<path d="M533.7,315.8L535.3,317.6L533.7,319.5L532.2,317.6Z" fill="#a3176f" stroke="#a3176f" stroke-width="0.6"/>
<path d="M556.4,300.8L558,302.6L556.4,304.5L554.9,302.6Z" fill="#a3176f" stroke="#a3176f" stroke-width="0.6"/>
<path d="M579.1,285.4L580.6,287.3L579.1,289.1L577.5,287.3Z" fill="#a3176f" stroke="#a3176f" stroke-width="0.6"/>
<path d="M601.8,278.1L603.3,279.9L601.8,281.8L600.2,279.9Z" fill="#a3176f" stroke="#a3176f" stroke-width="0.6"/>
<path d="M624.5,273.3L626,275.2L624.5,277L622.9,275.2Z" fill="#a3176f" stroke="#a3176f" stroke-width="0.6"/>
<path d="M647.1,268.6L648.7,270.4L647.1,272.3L645.6,270.4Z" fill="#a3176f" stroke="#a3176f" stroke-width="0.6"/>
<polyline points="511,319.8 533.7,317.3 556.4,312.9 579.1,309.9 601.8,306.3 624.5,302.3 647.1,297.9 669.8,296 692.5,295.3" fill="none" stroke="#0f8a1a" stroke-width="2.8"/>
<polyline points="511,323.1 533.7,317.3 556.4,307.8 579.1,299.3 601.8,293.1 624.5,286.9 647.1,284 669.8,281.8 692.5,278.5" fill="none" stroke="#ad1677" stroke-width="2.8"/>
<rect x="443.0" y="188.75" width="249.5" height="201.2" fill="none" stroke="#333" stroke-width="0.8"/>
<line x1="660" y1="193.6" x2="669.4" y2="193.6" stroke="#ad1677" stroke-width="2.6"/>
<line x1="660" y1="199.5" x2="669.4" y2="199.5" stroke="#0f8a1a" stroke-width="2.6"/>
<text x="670.8" y="195.2" class="tl">DYN AVG</text>
<text x="670.8" y="201.1" class="tl">STAT AVG</text>
<text x="449" y="386.3" class="ob">OBSERVED</text>
<text x="511.4" y="386.3" class="ob" textLength="26.5" lengthAdjust="spacingAndGlyphs">FORECAST</text>
<text x="693.6" y="195.5" class="lh">Dynamical Models</text>
<line x1="696.6" y1="199.7" x2="703.3" y2="199.7" stroke="#3b6cb5" stroke-width="0.7"/>
<path d="M699.9,198.1L701.2,199.7L699.9,201.3L698.6,199.7Z" fill="#3b6cb5" stroke="#3b6cb5" stroke-width="0.6"/>
<text x="706" y="201.2" class="li">AUS-ACCESS</text>
<line x1="696.6" y1="205.6" x2="703.3" y2="205.6" stroke="#4a7ec8" stroke-width="0.7"/>
<path d="M699.9,204.2L701.2,206.7L698.6,206.7Z" fill="#4a7ec8" stroke="#4a7ec8" stroke-width="0.6"/>
<text x="706" y="207.1" class="li">AUS-RELATIVE</text>
<line x1="696.6" y1="211.6" x2="703.3" y2="211.6" stroke="#c9b53d" stroke-width="0.7"/>
<path d="M699.9,210.2L701.2,212.6L698.6,212.6Z" fill="#c9b53d" stroke="#c9b53d" stroke-width="0.6"/>
<text x="706" y="213.1" class="li">COLA CCSM4</text>
<line x1="696.6" y1="217.5" x2="703.3" y2="217.5" stroke="#f06888" stroke-width="0.7"/>
<path d="M699.9,219L701.2,216.5L698.6,216.5Z" fill="#f06888" stroke="#f06888" stroke-width="0.6"/>
<text x="706" y="219" class="li">CS-IRI-MM</text>
<line x1="696.6" y1="223.5" x2="703.3" y2="223.5" stroke="#2a5aa8" stroke-width="0.7"/>
<path d="M699.9,221.9L701.2,223.5L699.9,225.1L698.6,223.5Z" fill="#2a5aa8" stroke="#2a5aa8" stroke-width="0.6"/>
<text x="706" y="225" class="li">IOCAS ICM</text>
<line x1="696.6" y1="229.4" x2="703.3" y2="229.4" stroke="#58b8e8" stroke-width="0.7"/>
<path d="M699.9,228L701.2,230.5L698.6,230.5Z" fill="#58b8e8" stroke="#58b8e8" stroke-width="0.6"/>
<text x="706" y="230.9" class="li">JMA</text>
<line x1="696.6" y1="235.4" x2="703.3" y2="235.4" stroke="#188a18" stroke-width="0.7"/>
<path d="M699.9,236.8L701.2,234.4L698.6,234.4Z" fill="#188a18" stroke="#188a18" stroke-width="0.6"/>
<text x="706" y="236.9" class="li">KMA</text>
<line x1="696.6" y1="241.3" x2="703.3" y2="241.3" stroke="#c9a62a" stroke-width="0.7"/>
<circle cx="699.9" cy="241.3" r="1.3" fill="#c9a62a" stroke="#c9a62a" stroke-width="0.6"/>
<text x="706" y="242.8" class="li">LDEO</text>
<line x1="696.6" y1="247.3" x2="703.3" y2="247.3" stroke="#f0505a" stroke-width="0.7"/>
<circle cx="699.9" cy="247.3" r="1.3" fill="#f0505a" stroke="#f0505a" stroke-width="0.6"/>
<text x="706" y="248.8" class="li">MetFRANCE</text>
<line x1="696.6" y1="253.2" x2="703.3" y2="253.2" stroke="#a3176f" stroke-width="0.7"/>
<path d="M699.9,251.7L701.2,253.2L699.9,254.8L698.6,253.2Z" fill="#a3176f" stroke="#a3176f" stroke-width="0.6"/>
<text x="706" y="254.8" class="li">NASA GMAO</text>
<line x1="696.6" y1="259.2" x2="703.3" y2="259.2" stroke="#c4c4c4" stroke-width="0.7"/>
<path d="M699.9,257.8L701.2,260.2L698.6,260.2Z" fill="#c4c4c4" stroke="#c4c4c4" stroke-width="0.6"/>
<text x="706" y="260.7" class="li">NCEP CFSv2</text>
<line x1="696.6" y1="265.1" x2="703.3" y2="265.1" stroke="#4dc3f0" stroke-width="0.7"/>
<path d="M699.9,263.6L701.2,265.1L699.9,266.7L698.6,265.1Z" fill="#4dc3f0" stroke="#4dc3f0" stroke-width="0.6"/>
<text x="706" y="266.6" class="li">SINTEX-F</text>
<line x1="696.6" y1="271.1" x2="703.3" y2="271.1" stroke="#1a8a30" stroke-width="0.7"/>
<circle cx="699.9" cy="271.1" r="1.3" fill="#1a8a30" stroke="#1a8a30" stroke-width="0.6"/>
<text x="706" y="272.6" class="li">UKMO</text>
<text x="693.2" y="333" class="lh">Statistical Models</text>
<line x1="696.6" y1="336.9" x2="703.3" y2="336.9" stroke="#f28a8a" stroke-width="0.7"/>
<circle cx="699.9" cy="336.9" r="1.3" fill="#fff" stroke="#f28a8a" stroke-width="0.6"/>
<text x="706" y="338.4" class="li">CPC CA</text>
<line x1="696.6" y1="342.8" x2="703.3" y2="342.8" stroke="#a8409a" stroke-width="0.7"/>
<path d="M699.9,341.3L701.2,342.8L699.9,344.4L698.6,342.8Z" fill="#fff" stroke="#a8409a" stroke-width="0.6"/>
<text x="706" y="344.3" class="li">CPC MRKOV</text>
<line x1="696.6" y1="348.8" x2="703.3" y2="348.8" stroke="#c4c4c4" stroke-width="0.7"/>
<path d="M699.9,347.3L701.2,349.8L698.6,349.8Z" fill="#fff" stroke="#c4c4c4" stroke-width="0.6"/>
<text x="706" y="350.3" class="li">CSU CLIPR</text>
<line x1="696.6" y1="354.7" x2="703.3" y2="354.7" stroke="#4070c0" stroke-width="0.7"/>
<path d="M699.9,356.1L701.2,353.7L698.6,353.7Z" fill="#fff" stroke="#4070c0" stroke-width="0.6"/>
<text x="706" y="356.2" class="li">IAP-NN</text>
<line x1="696.6" y1="360.7" x2="703.3" y2="360.7" stroke="#63c3f2" stroke-width="0.7"/>
<circle cx="699.9" cy="360.7" r="1.3" fill="#fff" stroke="#63c3f2" stroke-width="0.6"/>
<text x="706" y="362.2" class="li">NTU CODA</text>
<line x1="696.6" y1="366.6" x2="703.3" y2="366.6" stroke="#4aa04a" stroke-width="0.7"/>
<circle cx="699.9" cy="366.6" r="1.3" fill="#fff" stroke="#4aa04a" stroke-width="0.6"/>
<text x="706" y="368.1" class="li">UCLA TCD</text>
<line x1="696.6" y1="372.5" x2="703.3" y2="372.5" stroke="#c8b43a" stroke-width="0.7"/>
<path d="M699.9,371L701.2,372.5L699.9,374.1L698.6,372.5Z" fill="#fff" stroke="#c8b43a" stroke-width="0.6"/>
<text x="706" y="374" class="li">UW PSL-CSLM</text>
<line x1="696.6" y1="378.5" x2="703.3" y2="378.5" stroke="#f27a8a" stroke-width="0.7"/>
<path d="M699.9,377L701.2,379.5L698.6,379.5Z" fill="#fff" stroke="#f27a8a" stroke-width="0.6"/>
<text x="706" y="380" class="li">UW PSL-LIM</text>
<line x1="696.6" y1="384.4" x2="703.3" y2="384.4" stroke="#b0308e" stroke-width="0.7"/>
<path d="M699.9,385.8L701.2,383.4L698.6,383.4Z" fill="#fff" stroke="#b0308e" stroke-width="0.6"/>
<text x="706" y="385.9" class="li">XRO</text>
<text x="488.7" y="186" class="pt">Model Predictions of ENSO from Nov 2025</text>
<text transform="translate(424.7,289) rotate(-90)" class="ya">Nino3.4 SST Anomaly ( °C)</text>
<g>
<circle cx="462.7" cy="206.8" r="16.4" fill="none" stroke="#1c3591" stroke-width="0.8"/>
<path fill-rule="evenodd" fill="#1c3591" d="M479.3,208.65 a14.65,14.65 0 1,1 -29.3,0 a14.65,14.65 0 1,1 29.3,0 Z M475.1,206.9 a12,12 0 1,0 -24,0 a12,12 0 1,0 24,0 Z"/>
<text x="462.9" y="210.9" class="iri">IRI</text>
</g>
<g opacity="0.55" transform="translate(1.2,1.2)">
<text x="326.8" y="97" style="font:27.5px 'Liberation Sans',sans-serif;fill:#28335a;stroke:#28335a;stroke-width:0.7px">ENSO</text>
<text x="408" y="98" style="font:500 27px 'Liberation Sans','Noto Sans CJK TC',sans-serif;fill:#28335a;stroke:#28335a;stroke-width:0.35px">預報</text>
</g>
<g opacity="1" transform="translate(0,0)">
<text x="326.8" y="97" style="font:27.5px 'Liberation Sans',sans-serif;fill:#ffffff;stroke:#ffffff;stroke-width:0.7px">ENSO</text>
<text x="408" y="98" style="font:500 27px 'Liberation Sans','Noto Sans CJK TC',sans-serif;fill:#ffffff;stroke:#ffffff;stroke-width:0.35px">預報</text>
</g>
<text x="155" y="127.4" style="font:500 18.5px 'Liberation Sans','Noto Sans CJK TC',sans-serif;fill:#f0f2f8;">冬季預測反聖嬰有53%發展機率，春季預測以正常機率最高</text>
<text x="154.1" y="157.4" style="font:17.5px 'Liberation Sans',sans-serif;fill:#000;letter-spacing:0.9px;stroke:#000;stroke-width:0.45px">ENSO</text>
<text x="207.5" y="158.5" style="font:500 18px 'Liberation Sans','Noto Sans CJK TC',sans-serif;fill:#000;">類別機率預報</text>
<text x="417.5" y="158.5" style="font:500 18px 'Liberation Sans','Noto Sans CJK TC',sans-serif;fill:#000;">各國統計、動力模式之</text>
<text x="600.2" y="157.4" style="font:17.5px 'Liberation Sans',sans-serif;fill:#000;letter-spacing:0.9px;stroke:#000;stroke-width:0.45px">ENSO</text>
<text x="654" y="158.5" style="font:500 18px 'Liberation Sans','Noto Sans CJK TC',sans-serif;fill:#000;">指數預報</text>
<text x="95.2" y="182.3" style="font:500 11px 'Liberation Sans','Noto Sans CJK TC',sans-serif;fill:#111;">發布時間：</text>
<text x="148.8" y="182.5" style="font:12.5px 'Liberation Sans',sans-serif;fill:#000;letter-spacing:0.25px;stroke:#000;stroke-width:0.25px">114/11/19</text>
<text x="424.7" y="178.2" style="font:500 11px 'Liberation Sans','Noto Sans CJK TC',sans-serif;fill:#111;">發布時間：</text>
<text x="478.4" y="178.4" style="font:12.5px 'Liberation Sans',sans-serif;fill:#000;letter-spacing:0.25px;stroke:#000;stroke-width:0.25px">114/11/19</text>
<text x="303" y="182.3" style="font:500 11px 'Liberation Sans','Noto Sans CJK TC',sans-serif;fill:#111;">單位：</text>
<text x="335" y="182.6" style="font:12.3px 'Liberation Sans',sans-serif;fill:#111;stroke:#111;stroke-width:0.2px">%</text>
<text x="346.8" y="182.5" style="font:11.5px 'Liberation Sans',sans-serif;fill:#111;">(</text>
<text x="350.5" y="182.3" style="font:500 11px 'Liberation Sans','Noto Sans CJK TC',sans-serif;fill:#111;">機率</text>
<text x="372.3" y="182.5" style="font:11.5px 'Liberation Sans',sans-serif;fill:#111;">)</text>
<text x="178.4" y="421.5" style="font:12px 'Liberation Sans','Noto Sans CJK TC',sans-serif;fill:#e8ebf4;">資料來源：</text>
<text x="239" y="421.5" style="font:12.6px 'Liberation Sans',sans-serif;fill:#e8ebf4;">NOAA CPC</text>
<text x="303" y="421.5" style="font:12px 'Liberation Sans','Noto Sans CJK TC',sans-serif;fill:#e8ebf4;">、</text>
<text x="315.3" y="421.5" style="font:13px 'Liberation Sans',sans-serif;fill:#e8ebf4;">International Research Institute for Climate and Society</text>
</svg>
</body></html>
